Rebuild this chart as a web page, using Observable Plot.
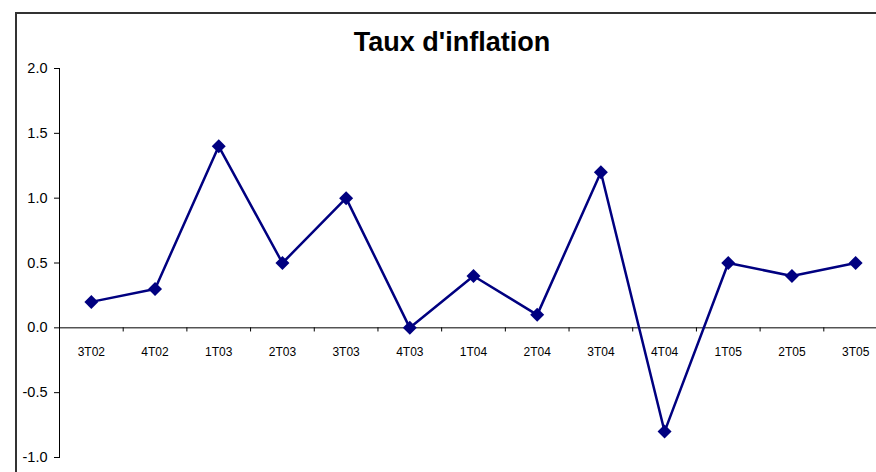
<!DOCTYPE html>
<html>
<head>
<meta charset="utf-8">
<script src="https://cdn.jsdelivr.net/npm/d3@7"></script>
<script src="https://cdn.jsdelivr.net/npm/@observablehq/plot@0.6"></script>
<style>
  html, body { margin: 0; padding: 0; background: #fff; overflow: hidden; }
  #wrap { position: relative; width: 876px; height: 472px; }
  #frame { position: absolute; left: 15px; top: 12px; width: 1000px; height: 1000px;
           border: 2px solid #333; box-sizing: border-box; pointer-events: none; }
  #title { position: absolute; left: 0; width: 904px; top: 27px; text-align: center;
           font-family: "Liberation Sans", Arial, sans-serif; font-weight: bold; font-size: 27px; color: #000; }
</style>
</head>
<body>
<div id="wrap">
  <div id="chart"></div>
  <div id="frame"></div>
  <div id="title">Taux d'inflation</div>
</div>
<script>
const quarters = ["3T02","4T02","1T03","2T03","3T03","4T03","1T04","2T04","3T04","4T04","1T05","2T05","3T05"];
const inflation = [0.2, 0.3, 1.4, 0.5, 1.0, 0.0, 0.4, 0.1, 1.2, -0.8, 0.5, 0.4, 0.5];
const yTicks = [-1.0, -0.5, 0.0, 0.5, 1.0, 1.5, 2.0];

const data = quarters.map((q, i) => ({q, v: inflation[i]}));

const left = 59, right = 887;
const half = (right - left) / quarters.length / 2;
const font = '"Liberation Sans", Arial, sans-serif';
const navy = "#000080";

const chart = Plot.plot({
  width: 876,
  height: 472,
  marginLeft: left,
  marginRight: 0,
  marginTop: 68,
  marginBottom: 472 - 457,
  style: {fontFamily: font, background: "transparent", overflow: "visible"},
  x: {type: "band", domain: quarters, range: [left, right], padding: 0, round: false, axis: null},
  y: {domain: [-1, 2], axis: null, label: null},
  marks: [
    Plot.axisY({ticks: yTicks, tickFormat: d => d.toFixed(1), tickSize: 5, tickPadding: 7, label: null,
      fontSize: 14.5, stroke: "#000", fill: "#000", strokeWidth: 1}),
    Plot.frame({anchor: "left", stroke: "#000", strokeWidth: 1}),
    Plot.ruleY([0], {stroke: "#000", strokeWidth: 1}),
    Plot.ruleX(quarters, {x: d => d, dx: half, y1: 0, y2: -0.032, stroke: "#000", strokeWidth: 1}),
    Plot.text(quarters, {x: d => d, y: () => 0, dy: 24, fontSize: 12, fill: "#000"}),
    Plot.line(data, {x: "q", y: "v", stroke: navy, strokeWidth: 2.5}),
    Plot.dot(data, {x: "q", y: "v", symbol: "diamond2", r: 6.3, fill: navy, stroke: "none"})
  ]
});
document.getElementById("chart").appendChild(chart);
</script>
</body>
</html>
